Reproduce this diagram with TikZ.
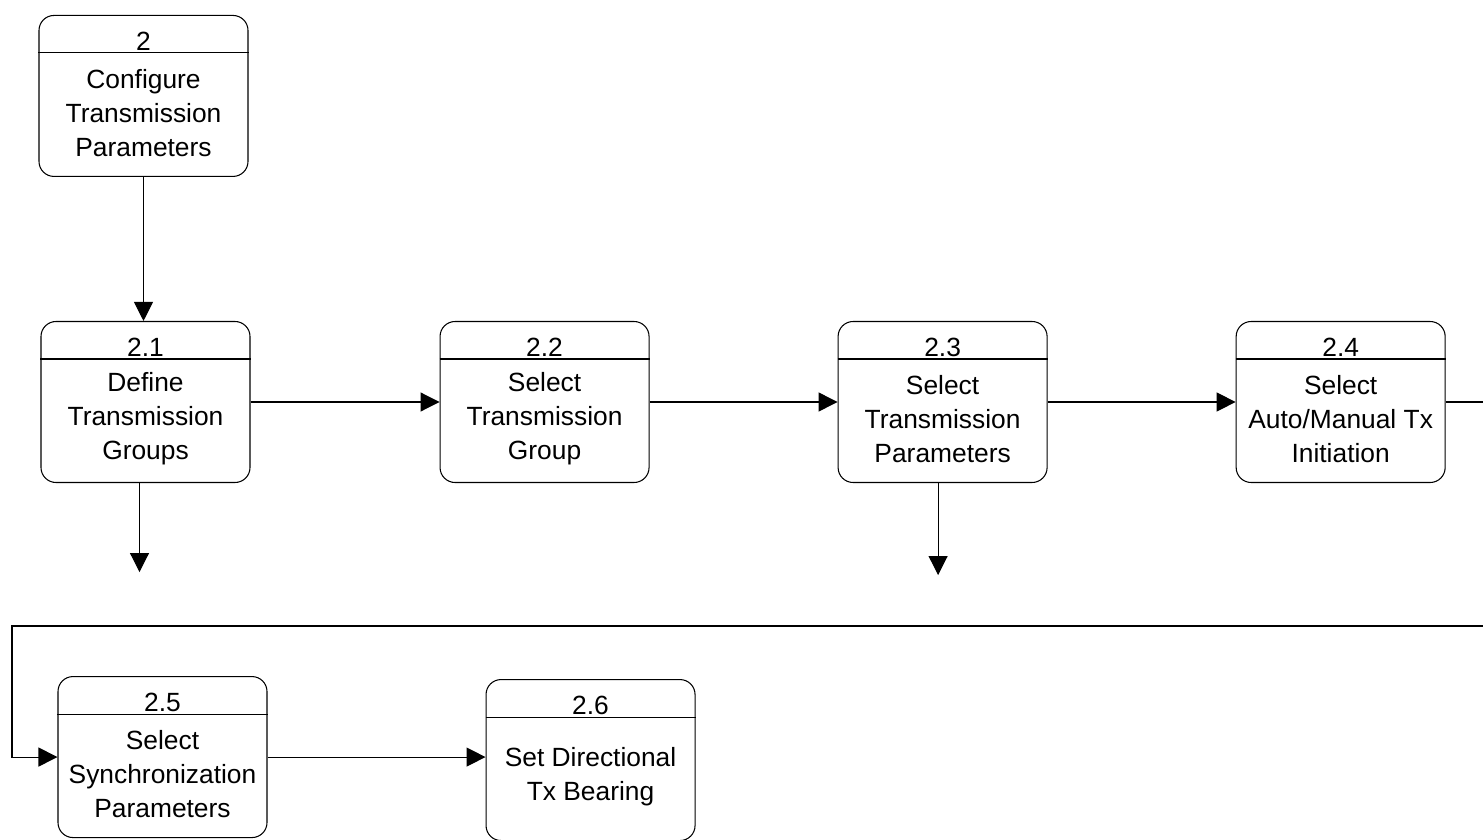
\documentclass[tikz,border=0pt]{standalone}
\usepackage{fontspec}
\setmainfont{Liberation Sans}
\usetikzlibrary{arrows.meta,positioning}
\tikzset{
  box/.style ={draw,rounded corners=3mm,minimum width=4.18cm,minimum height=3.22cm,
               line width=0.6pt},
  num/.style ={anchor=base,inner sep=0pt,font=\fontsize{15pt}{19.4pt}\selectfont},
  txt/.style ={align=center,inner sep=0pt,font=\fontsize{15pt}{19.4pt}\selectfont},
  sep/.style ={line width=0.6pt},
  ar/.style  ={-{Triangle[length=3.8mm,width=3.8mm]},line width=0.6pt},
}
% process box: [placement]{name}{number}{text}
\newcommand{\procbox}[4][]{%
  \node[box,#1] (#2) {};
  \draw[sep] ([yshift=-7.6mm]#2.north west) -- ([yshift=-7.6mm]#2.north east);
  \node[num] (#2n) at ([yshift=-7.1mm]#2.north) {#3};
  \node[txt] (#2t) at ([yshift=-3.4mm]#2.center) {#4};
}

\begin{document}
\begin{tikzpicture}
\useasboundingbox (0,0) rectangle (29.66,-16.8);
% middle row
\procbox[at={(2.91,-8.04)}]{P21}{2.1}{Define\\Transmission\\Groups}
\procbox[right=3.78cm of P21]{P22}{2.2}{Select\\Transmission\\Group}
\procbox[right=3.76cm of P22]{P23}{2.3}{Select\\Transmission\\Parameters}
\procbox[right=3.76cm of P23]{P24}{2.4}{Select\\Auto/Manual Tx\\Initiation}
% top
\procbox[above=2.88cm of P21,xshift=-0.4mm]{P2}{2}{Configure\\Transmission\\Parameters}
% bottom row
\procbox[below=3.86cm of P21,xshift=3.4mm]{P25}{2.5}{Select\\Synchronization\\Parameters}
\procbox[right=4.36cm of P25,yshift=-0.6mm]{P26}{2.6}{Set Directional\\Tx Bearing}
% free ends
\coordinate (E21) at ([xshift=-1.2mm,yshift=-17.8mm]P21.south);
\coordinate (E23) at ([xshift=-0.9mm,yshift=-18.4mm]P23.south);
\coordinate (R1) at (29.66,-8.04);
\coordinate (R2) at (29.66,-12.52);
\coordinate (L1) at (0.24,-12.52);
% edges
\draw[ar] (P2.south) -- (P2.south |- P21.north);
\draw[ar] (P21) -- (P22);
\draw[ar] (P22) -- (P23);
\draw[ar] (P23) -- (P24);
\draw[ar] ([xshift=-1.2mm]P21.south) -- (E21);
\draw[ar] ([xshift=-0.9mm]P23.south) -- (E23);
\draw[sep] (P24.east) -- (R1);
\draw[ar] (R2) -- (L1) |- (P25.west);
\draw[ar] (P25.east) -- (P25.east -| P26.west);
\end{tikzpicture}
\end{document}
